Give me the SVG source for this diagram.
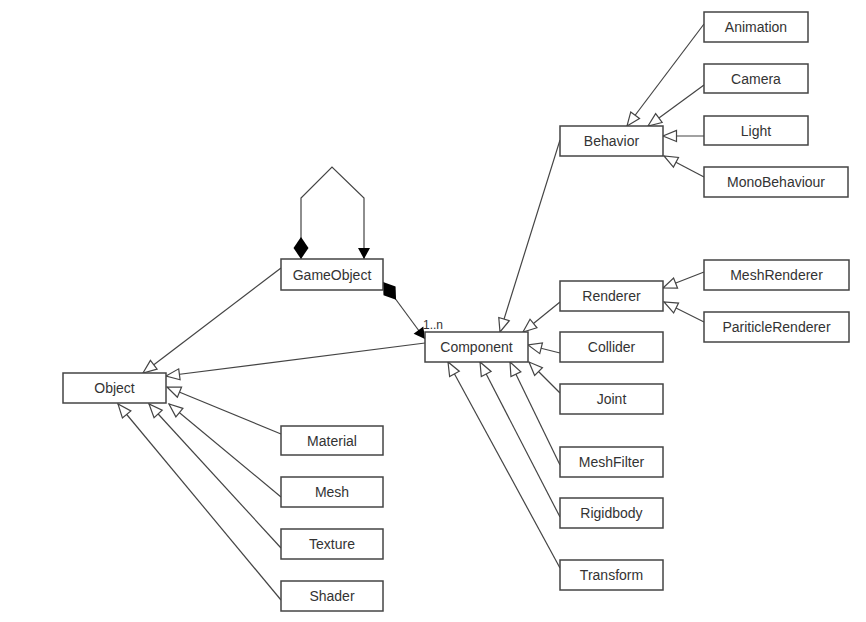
<svg xmlns="http://www.w3.org/2000/svg" width="866" height="622" viewBox="0 0 866 622">
<defs>
<style>
.node rect{fill:#fff;stroke:#444;stroke-width:1.5}
.node text{font-family:"Liberation Sans",Arial,sans-serif;font-size:14px;fill:#333;text-anchor:middle;dominant-baseline:central}
.c{fill:none;stroke:#444;stroke-width:1.2}
.g{marker-end:url(#tri)}
.lbl{font-family:"Liberation Sans",Arial,sans-serif;font-size:12px;fill:#333}
</style>
<marker id="tri" viewBox="0 0 15 13" refX="14.5" refY="6.5" markerWidth="15" markerHeight="13" markerUnits="userSpaceOnUse" orient="auto" overflow="visible">
<path d="M1,1 L14.5,6.5 L1,12 Z" fill="#fff" stroke="#444" stroke-width="1.2"/>
</marker>
<marker id="dia" viewBox="0 0 22 15" refX="0" refY="7.5" markerWidth="22" markerHeight="15" markerUnits="userSpaceOnUse" orient="auto" overflow="visible">
<path d="M0,7.5 L11,0 L22,7.5 L11,15 Z" fill="#000"/>
</marker>
<marker id="fa" viewBox="0 0 11 12" refX="11" refY="6" markerWidth="11" markerHeight="12" markerUnits="userSpaceOnUse" orient="auto" overflow="visible">
<path d="M0,0 L11,6 L0,12 Z" fill="#000"/>
</marker>
</defs>
<rect width="866" height="622" fill="#fff"/>
<g id="connectors">
<path class="c" d="M301,259 L301,198 L332,167 L364,198 L364,259" marker-start="url(#dia)" marker-end="url(#fa)"/>
<path class="c" d="M383,282 L425,339" marker-start="url(#dia)" marker-end="url(#fa)"/>
<path class="c g" d="M281,268 L143,373"/>
<path class="c g" d="M425,343 L166,376"/>
<path class="c g" d="M281,434 L167,387"/>
<path class="c g" d="M281,497 L169,404"/>
<path class="c g" d="M281,548 L149,404"/>
<path class="c g" d="M281,600 L118,404"/>
<path class="c g" d="M704,24 L627,126"/>
<path class="c g" d="M704,85 L648,126"/>
<path class="c g" d="M704,136 L663,136"/>
<path class="c g" d="M704,177 L664,156"/>
<path class="c g" d="M560,140 L500,332"/>
<path class="c g" d="M704,272 L663,288"/>
<path class="c g" d="M704,322 L664,302"/>
<path class="c g" d="M560,302 L523,332"/>
<path class="c g" d="M560,353 L528,345"/>
<path class="c g" d="M560,393 L529,362"/>
<path class="c g" d="M560,465 L510,362"/>
<path class="c g" d="M560,517 L480,362"/>
<path class="c g" d="M560,568 L448,362"/>
<text class="lbl" x="423" y="329">1..n</text>
</g>
<g id="Object" class="node"><rect x="63" y="373" width="103" height="30"/><text x="114.5" y="388">Object</text></g>
<g id="GameObject" class="node"><rect x="281" y="259" width="102" height="31"/><text x="332" y="274.5">GameObject</text></g>
<g id="Component" class="node"><rect x="425" y="332" width="103" height="30"/><text x="476.5" y="347">Component</text></g>
<g id="Material" class="node"><rect x="281" y="426" width="102" height="29"/><text x="332" y="440.5">Material</text></g>
<g id="Mesh" class="node"><rect x="281" y="477" width="102" height="30"/><text x="332" y="492">Mesh</text></g>
<g id="Texture" class="node"><rect x="281" y="529" width="102" height="30"/><text x="332" y="544">Texture</text></g>
<g id="Shader" class="node"><rect x="281" y="581" width="102" height="30"/><text x="332" y="596">Shader</text></g>
<g id="Behavior" class="node"><rect x="560" y="126" width="103" height="30"/><text x="611.5" y="141">Behavior</text></g>
<g id="Animation" class="node"><rect x="704" y="12" width="104" height="30"/><text x="756" y="27">Animation</text></g>
<g id="Camera" class="node"><rect x="704" y="64" width="104" height="29"/><text x="756" y="78.5">Camera</text></g>
<g id="Light" class="node"><rect x="704" y="116" width="104" height="29"/><text x="756" y="130.5">Light</text></g>
<g id="MonoBehaviour" class="node"><rect x="704" y="167" width="144" height="30"/><text x="776" y="182">MonoBehaviour</text></g>
<g id="Renderer" class="node"><rect x="560" y="281" width="103" height="30"/><text x="611.5" y="296">Renderer</text></g>
<g id="MeshRenderer" class="node"><rect x="704" y="260" width="145" height="30"/><text x="776.5" y="275">MeshRenderer</text></g>
<g id="PariticleRenderer" class="node"><rect x="704" y="312" width="145" height="30"/><text x="776.5" y="327">PariticleRenderer</text></g>
<g id="Collider" class="node"><rect x="560" y="332" width="103" height="30"/><text x="611.5" y="347">Collider</text></g>
<g id="Joint" class="node"><rect x="560" y="384" width="103" height="30"/><text x="611.5" y="399">Joint</text></g>
<g id="MeshFilter" class="node"><rect x="560" y="447" width="103" height="30"/><text x="611.5" y="462">MeshFilter</text></g>
<g id="Rigidbody" class="node"><rect x="560" y="498" width="103" height="30"/><text x="611.5" y="513">Rigidbody</text></g>
<g id="Transform" class="node"><rect x="560" y="560" width="103" height="30"/><text x="611.5" y="575">Transform</text></g>
</svg>
